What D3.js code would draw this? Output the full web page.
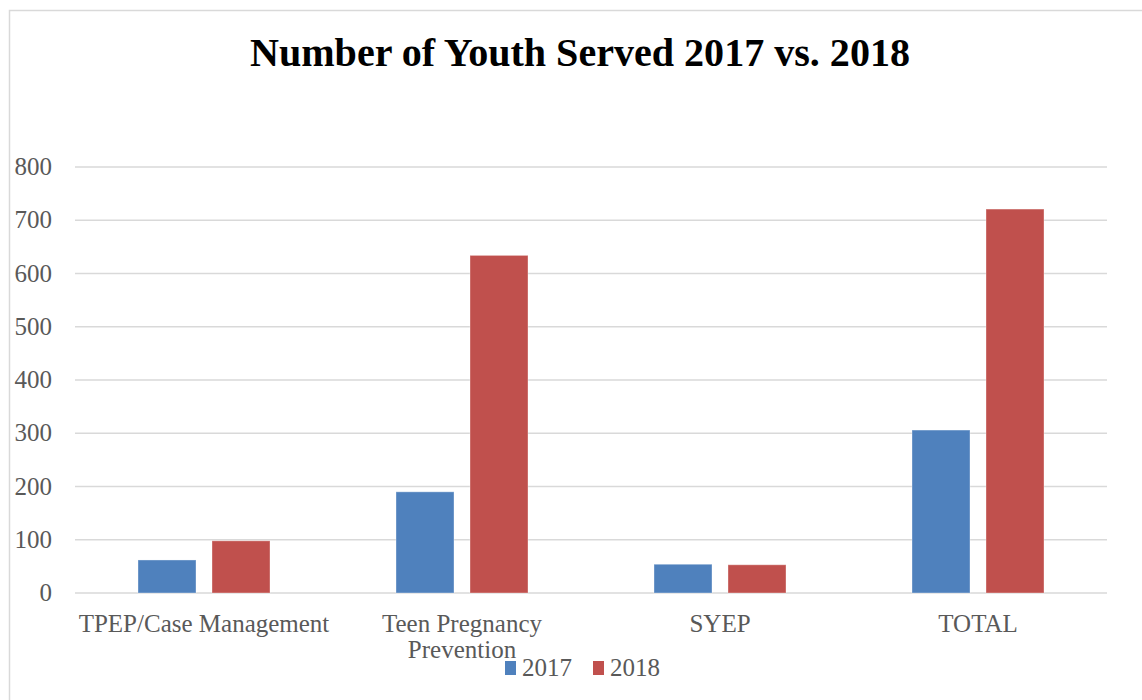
<!DOCTYPE html>
<html>
<head>
<meta charset="utf-8">
<script src="https://cdn.jsdelivr.net/npm/d3@7"></script>
<style>
  body { margin: 0; background: #fff; }
  svg { display: block; }
</style>
</head>
<body>
<svg id="chart"></svg>
<script>
const categories = ["TPEP/Case Management", "Teen Pregnancy Prevention", "SYEP", "TOTAL"];
const series = ["2017", "2018"];
const values2017 = [62, 190, 54, 306];
const values2018 = [98, 634, 53, 721];
const yTicks = [0, 100, 200, 300, 400, 500, 600, 700, 800];

const colors = { "2017": "#4F81BD", "2018": "#C0504D" };
const width = 1142;
const height = 700;
const margin = { top: 167, right: 35, bottom: 107, left: 75 };
const font = "'Liberation Serif', 'DejaVu Serif', serif";
const groupWidth = 132; // both bars plus the gap between them

const svg = d3.select("#chart")
  .attr("width", width)
  .attr("height", height);

// chart area border
svg.append("rect")
  .attr("x", 9.5)
  .attr("y", 10.5)
  .attr("width", width)
  .attr("height", height)
  .attr("fill", "none")
  .attr("stroke", "#d9d9d9")
  .attr("stroke-width", 1.5);

svg.append("text")
  .attr("x", 580)
  .attr("y", 66)
  .attr("text-anchor", "middle")
  .attr("font-family", font)
  .attr("font-weight", "bold")
  .attr("font-size", 40)
  .attr("textLength", 660)
  .attr("lengthAdjust", "spacingAndGlyphs")
  .attr("fill", "#000")
  .text("Number of Youth Served 2017 vs. 2018");

const x0 = d3.scaleBand()
  .domain(categories)
  .range([margin.left, width - margin.right])
  .paddingInner(0)
  .paddingOuter(0);

const x1 = d3.scaleBand()
  .domain(series)
  .range([0, groupWidth])
  .paddingInner(16 / 74);

const y = d3.scaleLinear()
  .domain([0, 800])
  .range([height - margin.bottom, margin.top]);

// gridlines
svg.append("g")
  .selectAll("line")
  .data(yTicks)
  .enter()
  .append("line")
  .attr("x1", margin.left)
  .attr("x2", width - margin.right)
  .attr("y1", (d) => y(d))
  .attr("y2", (d) => y(d))
  .attr("stroke", "#d9d9d9")
  .attr("stroke-width", 1.5);

// y labels
svg.append("g")
  .selectAll("text")
  .data(yTicks)
  .enter()
  .append("text")
  .attr("x", 52)
  .attr("y", (d) => y(d) + 8)
  .attr("text-anchor", "end")
  .attr("font-family", font)
  .attr("font-size", 25)
  .attr("fill", "#595959")
  .text((d) => d);

const barData = categories.flatMap((c, i) => [
  { cat: c, key: "2017", value: values2017[i] },
  { cat: c, key: "2018", value: values2018[i] }
]);

svg.append("g")
  .selectAll("rect")
  .data(barData)
  .enter()
  .append("rect")
  .attr("x", (d) => x0(d.cat) + (x0.bandwidth() - groupWidth) / 2 + x1(d.key))
  .attr("y", (d) => y(d.value))
  .attr("width", x1.bandwidth())
  .attr("height", (d) => y(0) - y(d.value))
  .attr("fill", (d) => colors[d.key])
  .attr("stroke", "#fff")
  .attr("stroke-opacity", 0.35)
  .attr("stroke-width", 1);

// category labels, wrapped like the original
const catLines = {
  "TPEP/Case Management": ["TPEP/Case Management"],
  "Teen Pregnancy Prevention": ["Teen Pregnancy", "Prevention"],
  "SYEP": ["SYEP"],
  "TOTAL": ["TOTAL"]
};

const catText = svg.append("g")
  .selectAll("text")
  .data(categories)
  .enter()
  .append("text")
  .attr("x", (d) => x0(d) + x0.bandwidth() / 2)
  .attr("y", 632)
  .attr("text-anchor", "middle")
  .attr("font-family", font)
  .attr("font-size", 25)
  .attr("fill", "#595959");

catText.selectAll("tspan")
  .data((d) => catLines[d].map((t) => ({ t: t, cx: x0(d) + x0.bandwidth() / 2 })))
  .enter()
  .append("tspan")
  .attr("x", (d) => d.cx)
  .attr("dy", (d, i) => (i === 0 ? 0 : 26))
  .text((d) => d.t);

// legend
const legend = svg.append("g")
  .selectAll("g")
  .data(series)
  .enter()
  .append("g")
  .attr("transform", (d, i) => `translate(${505 + i * 88},661)`);

legend.append("rect")
  .attr("width", 11)
  .attr("height", 14)
  .attr("fill", (d) => colors[d]);

legend.append("text")
  .attr("x", 17)
  .attr("y", 15)
  .attr("font-family", font)
  .attr("font-size", 25)
  .attr("fill", "#595959")
  .text((d) => d);
</script>
</body>
</html>
